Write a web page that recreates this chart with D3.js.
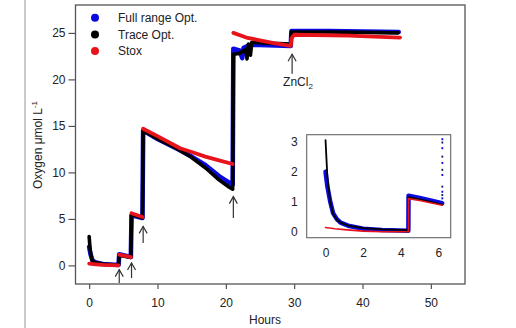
<!DOCTYPE html>
<html><head><meta charset="utf-8">
<script src="https://cdn.jsdelivr.net/npm/d3@7"></script>
<style>
html,body{margin:0;padding:0;background:#fff;}
svg{display:block;font-family:"Liberation Sans",Arial,sans-serif;}
</style></head>
<body><svg id="c" width="516" height="328"></svg>
<script>
// ---- data ----
const hourTicks = [0, 10, 20, 30, 40, 50];
const oxygenTicks = [0, 5, 10, 15, 20, 25];
const insetHourTicks = [0, 2, 4, 6];
const insetOxygenTicks = [0, 1, 2, 3];
const seriesNames = ["Full range Opt.", "Trace Opt.", "Stox"];
const seriesColors = ["#0a0ae0", "#000000", "#e8141c"];

const fullRange = [[0,2.0],[0.2,1.2],[0.5,0.5],[1,0.3],[2,0.15],[3,0.1],[4.3,0.05],[4.4,1.2],[6.1,0.9],[6.2,5.4],[7.8,5.1],[7.9,14.5],[10,13.6],[13,12.5],[15,11.7],[17,10.8],[19,9.6],[20.5,8.9],[21,8.7],[21.1,23.3],[22,23.1],[22.4,22.3],[22.6,23.4],[23.5,23.7],[25,23.7],[29.5,23.6],[29.6,25.2],[35,25.2],[45.3,25.1]];
const traceOpt = [[0,3.1],[0.15,1.6],[0.4,0.6],[0.8,0.3],[2,0.15],[3,0.1],[4.3,0.05],[4.4,1.1],[6.1,0.85],[6.2,5.5],[7.8,5.1],[7.9,14.5],[10,13.6],[13,12.5],[15,11.6],[17,10.5],[19,9.2],[20.5,8.4],[21,8.2],[21.1,22.7],[22,22.8],[22.9,23.2],[23.1,22.2],[23.3,23.8],[23.6,22.6],[23.8,24.0],[26,23.9],[29.5,23.8],[29.6,25.1],[35,25.1],[45.2,25.0]];
const stox = [[0,0.2],[1,0.12],[2,0.05],[4.3,0.0],[4.4,1.15],[6.1,0.9],[6.2,5.6],[7.8,5.2],[7.9,14.7],[10,13.9],[13.3,12.6],[15,12.2],[17,11.7],[19,11.3],[21,10.9],[21.1,25.0],[23,24.5],[25,24.2],[27,23.9],[29.5,23.6],[29.6,24.4],[30,24.8],[38,24.7],[45.5,24.5]];

const insetFull = [[0,2.0],[0.1,1.5],[0.25,1.0],[0.4,0.62],[0.6,0.42],[0.8,0.3],[1.2,0.2],[2,0.1],[3,0.06],[4.4,0.03],[4.41,1.2],[5,1.12],[6.2,0.95]];
const insetTrace = [[0,3.05],[0.1,1.8],[0.25,1.0],[0.4,0.6],[0.6,0.4],[0.8,0.3],[1.2,0.2],[2,0.12],[3,0.08],[4.4,0.05],[4.41,1.15],[5,1.08],[6.2,0.9]];
const insetStox = [[0,0.14],[0.5,0.1],[1,0.07],[2,0.02],[3,0.0],[4.4,0.0],[4.41,1.1],[5,1.04],[6.2,0.88]];
const insetTailHour = 6.2;
const insetTailValues = [1.11, 1.22, 1.33, 1.5, 1.89, 2.06, 2.29, 2.5, 2.78, 2.97, 3.08];

// arrows: [hour, tail value, tip value]
const arrows = [[4.4,-1.9,-0.45],[6.2,-1.35,0.25],[7.9,2.4,4.2],[21.1,5.1,7.4],[29.7,20.6,22.7]];

// ---- drawing ----
const svg = d3.select("#c");
const font = "Liberation Sans, Arial, sans-serif";

svg.append("line").attr("x1",25).attr("x2",25).attr("y1",0).attr("y2",328)
  .attr("stroke","#b8b8b8").attr("stroke-width",1.5);

const x = d3.scaleLinear().domain([-2,55]).range([75.5,465]);
const y = d3.scaleLinear().domain([-2,28]).range([284,5]);

const gx = svg.append("g").attr("transform","translate(0,284)")
  .call(d3.axisBottom(x).tickValues(hourTicks).tickSize(5).tickPadding(9));
const gy = svg.append("g").attr("transform","translate(75.5,0)")
  .call(d3.axisLeft(y).tickValues(oxygenTicks).tickSize(7).tickPadding(3));
[gx,gy].forEach(g=>{
  g.select(".domain").remove();
  g.selectAll("line").attr("stroke","#444").attr("stroke-width",1.1);
  g.selectAll("text").attr("font-size",12).attr("font-family",font).attr("fill","#222");
});

svg.append("rect").attr("x",75.5).attr("y",5).attr("width",465-75.5).attr("height",284-5)
  .attr("fill","none").attr("stroke","#555").attr("stroke-width",1.3);

svg.append("text").attr("x",265).attr("y",324).attr("text-anchor","middle")
  .attr("font-size",12).attr("font-family",font).attr("fill","#222").text("Hours");
const yl = svg.append("text").attr("transform","translate(42,145) rotate(-90)")
  .attr("text-anchor","middle").attr("font-size",12).attr("font-family",font).attr("fill","#222");
yl.append("tspan").text("Oxygen  \u03bcmol L");
yl.append("tspan").attr("font-size",8).attr("dy",-5).text("-1");

// split a series where it jumps vertically (the Stox sensor shows no points on the jumps)
function splitAtJumps(arr, gap){
  const segs=[[arr[0]]];
  for(let i=1;i<arr.length;i++){
    if(arr[i][0]-arr[i-1][0] < gap && Math.abs(arr[i][1]-arr[i-1][1])>1) segs.push([]);
    segs[segs.length-1].push(arr[i]);
  }
  return segs;
}

const line = d3.line().x(d=>x(d[0])).y(d=>y(d[1]));
[[fullRange,4.6],[traceOpt,3.6]].forEach((s,i)=>{
  svg.append("path").datum(s[0]).attr("d",line).attr("fill","none")
    .attr("stroke",seriesColors[i]).attr("stroke-width",s[1])
    .attr("stroke-linejoin","round").attr("stroke-linecap","round");
});
splitAtJumps(stox,0.15).forEach(seg=>{
  svg.append("path").datum(seg).attr("d",line).attr("fill","none")
    .attr("stroke",seriesColors[2]).attr("stroke-width",3.8)
    .attr("stroke-linejoin","round").attr("stroke-linecap","round");
});

function arrow(g, px, y1, y2){
  g.append("line").attr("x1",px).attr("x2",px).attr("y1",y1).attr("y2",y2)
    .attr("stroke","#333").attr("stroke-width",1.2);
  g.append("path").attr("d",`M${px-4},${y2+7}L${px},${y2}L${px+4},${y2+7}`)
    .attr("fill","none").attr("stroke","#333").attr("stroke-width",1.2);
}
arrows.forEach(a=>arrow(svg, x(a[0]), y(a[1]), y(a[2])));

const zn = svg.append("text").attr("x",x(29.7)-9).attr("y",86).attr("font-size",12)
  .attr("font-family",font).attr("fill","#222");
zn.append("tspan").text("ZnCl");
zn.append("tspan").attr("font-size",8).attr("dy",3).text("2");

seriesNames.forEach((n,i)=>{
  const ly = 17.7 + i*16.7;
  svg.append("circle").attr("cx",95).attr("cy",ly).attr("r",4).attr("fill",seriesColors[i]);
  svg.append("text").attr("x",118).attr("y",ly+4.3).attr("font-size",12)
    .attr("font-family",font).attr("fill","#222").text(n);
});

// inset
const xi = d3.scaleLinear().domain([-1,6.65]).range([306.7,450.7]);
const yi = d3.scaleLinear().domain([-0.2,3.23]).range([237.7,134.7]);
svg.append("rect").attr("x",306.7).attr("y",134.7).attr("width",450.7-306.7).attr("height",237.7-134.7)
  .attr("fill","#fff").attr("stroke","#666").attr("stroke-width",1.1);
const gix = svg.append("g").attr("transform","translate(0,237.7)")
  .call(d3.axisBottom(xi).tickValues(insetHourTicks).tickFormat(d3.format("d")).tickSize(0).tickPadding(11));
const giy = svg.append("g").attr("transform","translate(306.7,0)")
  .call(d3.axisLeft(yi).tickValues(insetOxygenTicks).tickFormat(d3.format("d")).tickSize(0).tickPadding(9));
[gix,giy].forEach(g=>{
  g.select(".domain").remove();
  g.selectAll("text").attr("font-size",12).attr("font-family",font).attr("fill","#222");
});
const iline = d3.line().x(d=>xi(d[0])).y(d=>yi(d[1]));
[[insetFull,4.5],[insetTrace,1.8],[insetStox,1.6]].forEach((s,i)=>{
  svg.append("path").datum(s[0]).attr("d",iline).attr("fill","none")
    .attr("stroke",seriesColors[i]).attr("stroke-width",s[1])
    .attr("stroke-linejoin","round").attr("stroke-linecap","round");
});
svg.selectAll(".tail").data(insetTailValues).join("rect").attr("class","tail")
  .attr("x",xi(insetTailHour)-0.8).attr("y",d=>yi(d)-1).attr("width",1.8).attr("height",2)
  .attr("fill",(d,i)=>i%2?"#1a1a60":"#0a0ae0");
</script></body></html>
